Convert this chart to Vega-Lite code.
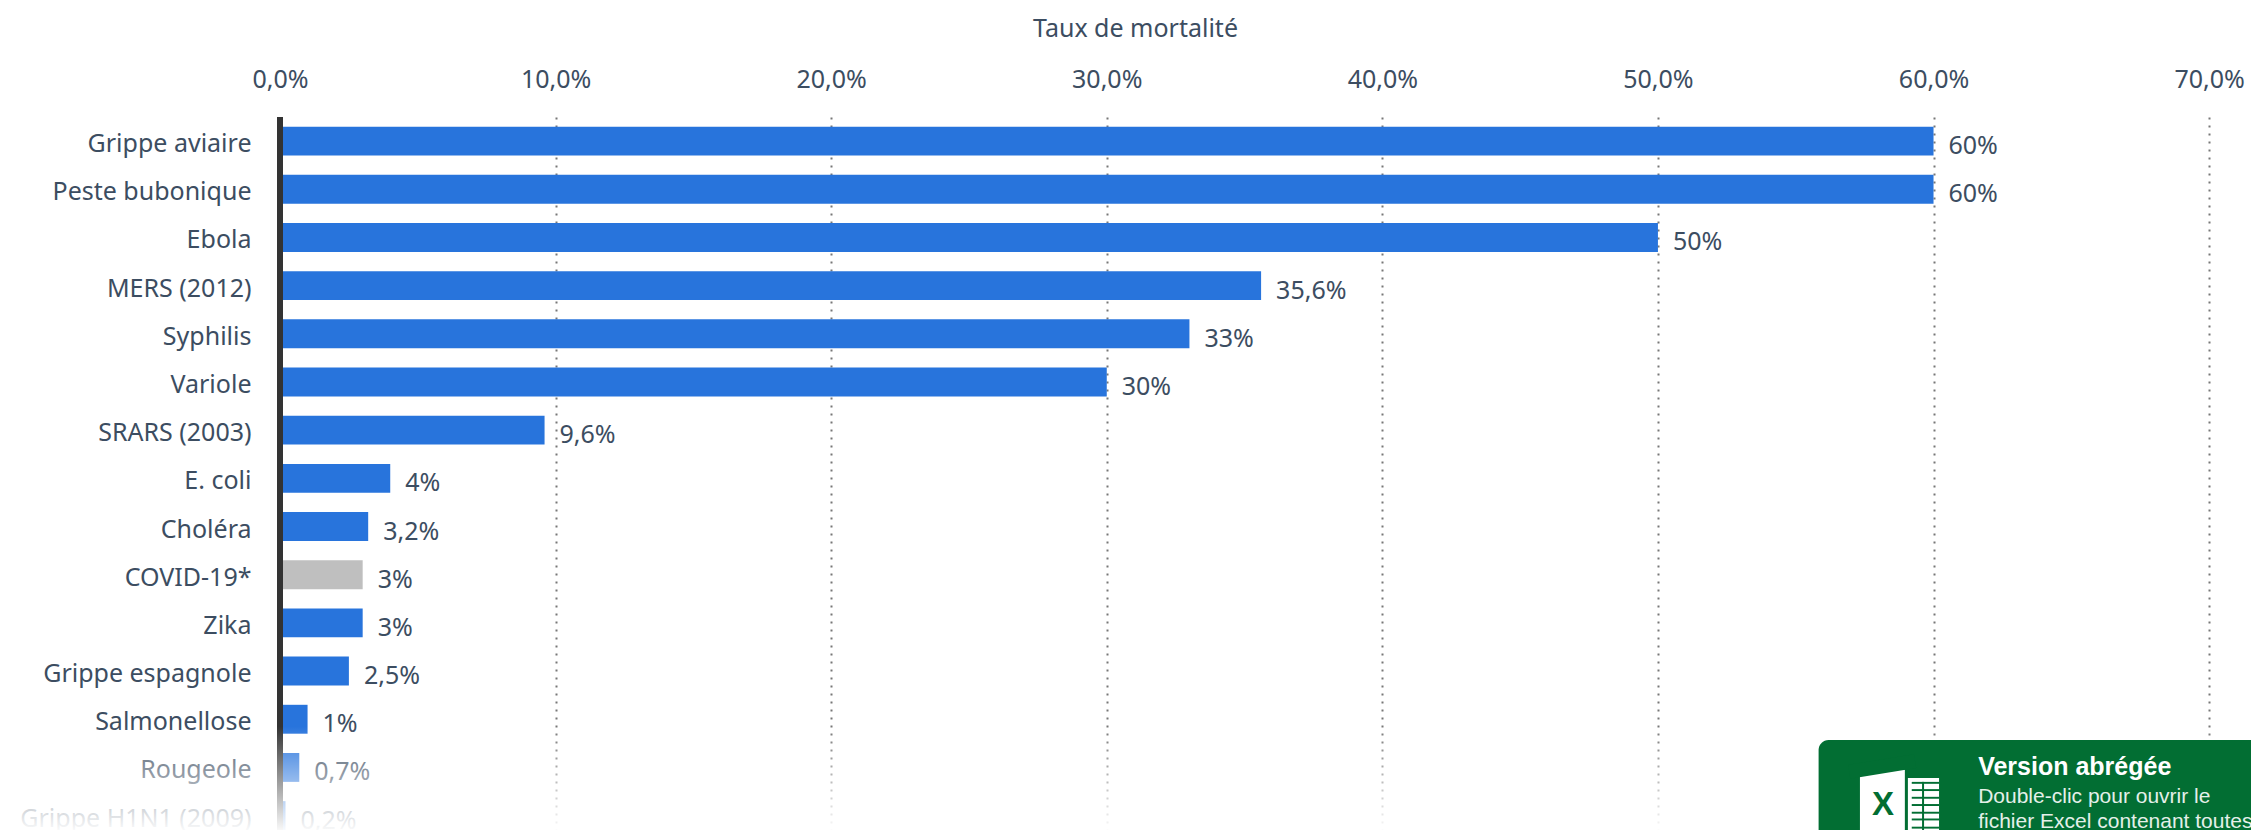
{
  "$schema": "https://vega.github.io/schema/vega-lite/v6.json",
  "width": 1971,
  "height": 713,
  "autosize": {"type": "none"},
  "padding": {"left": 280, "top": 117, "right": 0, "bottom": 0},
  "background": "white",
  "config": {
    "view": {"stroke": null},
    "locale": {"number": {"decimal": ",", "thousands": " ", "grouping": [3], "currency": ["", " €"]}},
    "font": "Noto Sans"
  },
  "layer": [
    {
      "data": {"values": [
        {"maladie": "Grippe aviaire", "taux": 0.6, "groupe": "autre"},
        {"maladie": "Peste bubonique", "taux": 0.6, "groupe": "autre"},
        {"maladie": "Ebola", "taux": 0.5, "groupe": "autre"},
        {"maladie": "MERS (2012)", "taux": 0.356, "groupe": "autre"},
        {"maladie": "Syphilis", "taux": 0.33, "groupe": "autre"},
        {"maladie": "Variole", "taux": 0.3, "groupe": "autre"},
        {"maladie": "SRARS (2003)", "taux": 0.096, "groupe": "autre"},
        {"maladie": "E. coli", "taux": 0.04, "groupe": "autre"},
        {"maladie": "Choléra", "taux": 0.032, "groupe": "autre"},
        {"maladie": "COVID-19*", "taux": 0.03, "groupe": "covid"},
        {"maladie": "Zika", "taux": 0.03, "groupe": "autre"},
        {"maladie": "Grippe espagnole", "taux": 0.025, "groupe": "autre"},
        {"maladie": "Salmonellose", "taux": 0.01, "groupe": "autre"},
        {"maladie": "Rougeole", "taux": 0.007, "groupe": "autre"},
        {"maladie": "Grippe H1N1 (2009)", "taux": 0.002, "groupe": "autre"}
      ]},
      "encoding": {
        "y": {
          "field": "maladie",
          "type": "nominal",
          "sort": null,
          "scale": {"range": [0, 722.7], "paddingInner": 0.4, "paddingOuter": 0.2},
          "axis": {
            "title": null, "domain": false, "ticks": false, "grid": false,
            "labelPadding": 29, "labelFontSize": 25, "labelColor": "#3c4d61",
            "labelFont": "Noto Sans", "labelOverlap": false, "labelLimit": 400, "labelOffset": 3
          }
        }
      },
      "layer": [
        {
          "mark": {"type": "bar"},
          "encoding": {
            "x": {
              "field": "taux",
              "type": "quantitative",
              "scale": {"domain": [0, 0.7152], "nice": false, "zero": true},
              "axis": {
                "orient": "top",
                "title": "Taux de mortalité",
                "titleFont": "Noto Sans", "titleFontSize": 25, "titleFontWeight": "normal",
                "titleColor": "#3c4d61", "titleX": 855, "titleY": -76,
                "values": [0, 0.1, 0.2, 0.3, 0.4, 0.5, 0.6, 0.7],
                "format": ".1%",
                "domain": false, "ticks": false, "labelPadding": 25,
                "labelFont": "Noto Sans", "labelFontSize": 25, "labelColor": "#3c4d61",
                "labelFlush": false, "labelOverlap": false,
                "grid": true, "gridColor": "#777777", "gridWidth": 2, "gridDash": [2, 6]
              }
            },
            "color": {
              "field": "groupe",
              "type": "nominal",
              "scale": {"domain": ["autre", "covid"], "range": ["#2874dc", "#bfbfbf"]},
              "legend": null
            }
          }
        },
        {
          "mark": {
            "type": "text", "align": "left", "baseline": "middle", "dx": 15, "dy": 5,
            "font": "Noto Sans", "fontSize": 25, "color": "#3c4d61"
          },
          "encoding": {
            "x": {"field": "taux", "type": "quantitative"},
            "text": {"field": "taux", "type": "quantitative", "format": ".1~%"}
          }
        }
      ]
    },
    {
      "layer": [
        {
          "data": {"values": [{}]},
          "mark": {"type": "rule", "color": "#333333", "strokeWidth": 6},
          "encoding": {
            "x": {"datum": 0, "type": "quantitative"},
            "y": {"datum": 0, "type": "quantitative", "scale": {"domain": [0, 15], "range": [0, 722.7], "nice": false, "zero": false}, "axis": null},
            "y2": {"datum": 15}
          }
        },
        {
          "data": {"values": [{}]},
          "mark": {
            "type": "rect",
            "fill": {
              "gradient": "linear", "x1": 0, "y1": 0, "x2": 0, "y2": 1,
              "stops": [
                {"offset": 0, "color": "rgba(255,255,255,0)"},
                {"offset": 1, "color": "rgba(255,255,255,0.98)"}
              ]
            }
          },
          "encoding": {
            "x": {"datum": -0.1016, "type": "quantitative"},
            "x2": {"datum": 0.7152},
            "y": {"datum": 12.65, "type": "quantitative"},
            "y2": {"datum": 14.83}
          }
        },
        {
          "data": {"values": [{}]},
          "mark": {"type": "rect", "fill": "#026e33", "cornerRadiusTopLeft": 10},
          "encoding": {
            "x": {"datum": 0.5583, "type": "quantitative"},
            "x2": {"datum": 0.7152},
            "y": {"datum": 12.93, "type": "quantitative"},
            "y2": {"datum": 15}
          }
        },
        {
          "data": {"values": [{}]},
          "mark": {"type": "rect", "fill": "white"},
          "encoding": {
            "x": {"datum": 0.5733, "type": "quantitative"},
            "x2": {"datum": 0.5896},
            "y": {"datum": 13.55, "type": "quantitative"},
            "y2": {"datum": 15}
          }
        },
        {
          "data": {"values": [{}]},
          "mark": {"type": "rule", "color": "#026e33", "strokeWidth": 14},
          "encoding": {
            "x": {"datum": 0.5694, "type": "quantitative"},
            "x2": {"datum": 0.5933},
            "y": {"datum": 13.59, "type": "quantitative"},
            "y2": {"datum": 13.37}
          }
        },
        {
          "data": {"values": [{}]},
          "mark": {"type": "rect", "fill": "white"},
          "encoding": {
            "x": {"datum": 0.5907, "type": "quantitative"},
            "x2": {"datum": 0.602},
            "y": {"datum": 13.72, "type": "quantitative"},
            "y2": {"datum": 15}
          }
        },
        {"data": {"values": [{}]}, "mark": {"type": "rect", "fill": "#026e33"}, "encoding": {"x": {"datum": 0.5921, "type": "quantitative"}, "x2": {"datum": 0.602}, "y": {"datum": 13.8, "type": "quantitative"}, "y2": {"datum": 13.84}}},
        {"data": {"values": [{}]}, "mark": {"type": "rect", "fill": "#026e33"}, "encoding": {"x": {"datum": 0.5921, "type": "quantitative"}, "x2": {"datum": 0.602}, "y": {"datum": 13.95, "type": "quantitative"}, "y2": {"datum": 13.99}}},
        {"data": {"values": [{}]}, "mark": {"type": "rect", "fill": "#026e33"}, "encoding": {"x": {"datum": 0.5921, "type": "quantitative"}, "x2": {"datum": 0.602}, "y": {"datum": 14.11, "type": "quantitative"}, "y2": {"datum": 14.15}}},
        {"data": {"values": [{}]}, "mark": {"type": "rect", "fill": "#026e33"}, "encoding": {"x": {"datum": 0.5921, "type": "quantitative"}, "x2": {"datum": 0.602}, "y": {"datum": 14.26, "type": "quantitative"}, "y2": {"datum": 14.3}}},
        {"data": {"values": [{}]}, "mark": {"type": "rect", "fill": "#026e33"}, "encoding": {"x": {"datum": 0.5921, "type": "quantitative"}, "x2": {"datum": 0.602}, "y": {"datum": 14.42, "type": "quantitative"}, "y2": {"datum": 14.46}}},
        {"data": {"values": [{}]}, "mark": {"type": "rect", "fill": "#026e33"}, "encoding": {"x": {"datum": 0.5921, "type": "quantitative"}, "x2": {"datum": 0.602}, "y": {"datum": 14.56, "type": "quantitative"}, "y2": {"datum": 14.6}}},
        {"data": {"values": [{}]}, "mark": {"type": "rect", "fill": "#026e33"}, "encoding": {"x": {"datum": 0.5921, "type": "quantitative"}, "x2": {"datum": 0.602}, "y": {"datum": 14.73, "type": "quantitative"}, "y2": {"datum": 14.77}}},
        {
          "data": {"values": [{}]},
          "mark": {"type": "rule", "color": "#026e33", "strokeWidth": 2},
          "encoding": {
            "x": {"datum": 0.5962, "type": "quantitative"},
            "y": {"datum": 13.8, "type": "quantitative"},
            "y2": {"datum": 15}
          }
        },
        {
          "data": {"values": [{}]},
          "mark": {"type": "text", "font": "Liberation Sans", "fontWeight": "bold", "fontSize": 33, "color": "#026e33", "align": "center", "baseline": "middle"},
          "encoding": {
            "x": {"datum": 0.5817, "type": "quantitative"},
            "y": {"datum": 14.28, "type": "quantitative"},
            "text": {"value": "X"}
          }
        },
        {
          "data": {"values": [{}]},
          "mark": {"type": "text", "font": "Liberation Sans", "fontWeight": "bold", "fontSize": 25, "color": "#ffffff", "align": "left", "baseline": "middle"},
          "encoding": {
            "x": {"datum": 0.6162, "type": "quantitative"},
            "y": {"datum": 13.49, "type": "quantitative"},
            "text": {"value": "Version abrégée"}
          }
        },
        {
          "data": {"values": [{}]},
          "mark": {"type": "text", "font": "Liberation Sans", "fontSize": 21, "color": "#e4f0e9", "align": "left", "baseline": "middle"},
          "encoding": {
            "x": {"datum": 0.6162, "type": "quantitative"},
            "y": {"datum": 14.11, "type": "quantitative"},
            "text": {"value": "Double-clic pour ouvrir le"}
          }
        },
        {
          "data": {"values": [{}]},
          "mark": {"type": "text", "font": "Liberation Sans", "fontSize": 21, "color": "#e4f0e9", "align": "left", "baseline": "middle"},
          "encoding": {
            "x": {"datum": 0.6162, "type": "quantitative"},
            "y": {"datum": 14.63, "type": "quantitative"},
            "text": {"value": "fichier Excel contenant toutes"}
          }
        }
      ]
    }
  ],
  "resolve": {"scale": {"y": "independent"}}
}
